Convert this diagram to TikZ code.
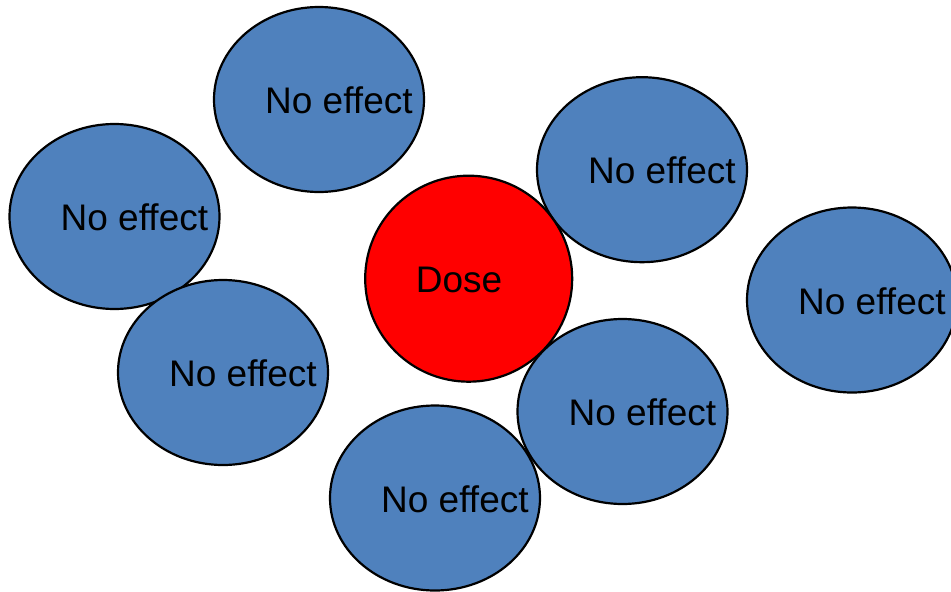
\documentclass[tikz,border=0pt]{standalone}
\usepackage{fontspec}
\setmainfont{Liberation Sans}
\usetikzlibrary{shapes.geometric}
\definecolor{blobblue}{HTML}{4F81BD}
\tikzset{
  blob/.style={ellipse, draw=black, line width=2.2pt, fill=blobblue,
    minimum width=210pt, minimum height=185pt, inner sep=0pt},
  dose/.style={ellipse, draw=black, line width=2.2pt, fill=red,
    minimum width=207pt, minimum height=206pt, inner sep=0pt},
  lbl/.style={anchor=west, inner sep=0pt, text=black,
    font=\fontsize{37}{44}\selectfont}
}
\begin{document}
\begin{tikzpicture}[x=1pt,y=-1pt]
\useasboundingbox (0,0) rectangle (951,592);
\clip (0,0) rectangle (951,592);
\node[blob] (e1) at (319,99.5) {};
\node[blob] (e2) at (114.5,216.5) {};
\node[blob] (e3) at (223,372.5) {};
\node[blob] (e5) at (642,169.7) {};
\node[blob] (e6) at (852,300) {};
\node[blob] (e7) at (622.5,411.5) {};
\node[blob] (e8) at (435,498) {};
\node[dose] (d) at (468.7,278.7) {};
\node[lbl] (t1) at ([xshift=-54pt,yshift=-1pt]e1.center) {No effect};
\node[lbl] (t2) at ([xshift=-54pt,yshift=-1pt]e2.center) {No effect};
\node[lbl] (t3) at ([xshift=-54pt,yshift=-1pt]e3.center) {No effect};
\node[lbl] (t5) at ([xshift=-54pt,yshift=-1pt]e5.center) {No effect};
\node[lbl] (t6) at ([xshift=-54pt,yshift=-1pt]e6.center) {No effect};
\node[lbl] (t7) at ([xshift=-54pt,yshift=-1pt]e7.center) {No effect};
\node[lbl] (t8) at ([xshift=-54pt,yshift=-1pt]e8.center) {No effect};
\node[lbl] (td) at ([xshift=-53pt,yshift=-1pt]d.center) {Dose};
\end{tikzpicture}
\end{document}
